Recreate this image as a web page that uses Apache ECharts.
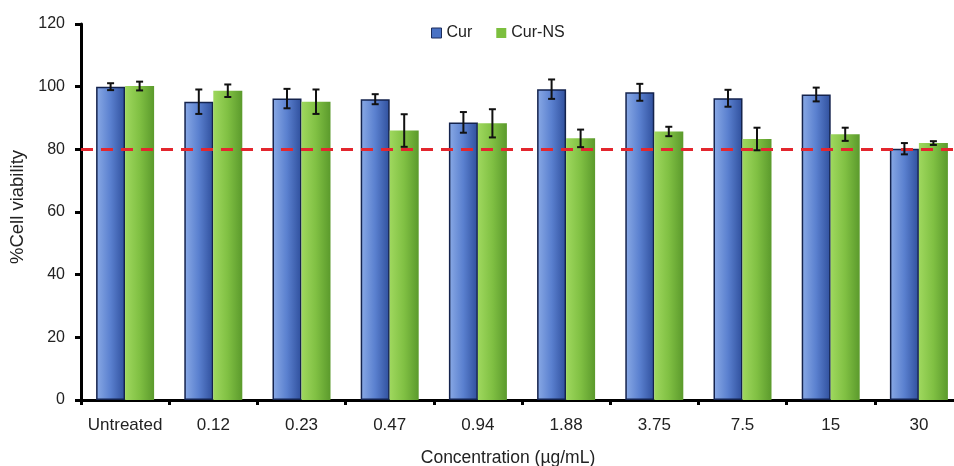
<!DOCTYPE html>
<html>
<head>
<meta charset="utf-8">
<script src="https://cdn.jsdelivr.net/npm/echarts@6/dist/echarts.min.js"></script>
<style>html,body{margin:0;padding:0;background:#fff;overflow:hidden}#c{width:954px;height:466px}</style>
</head>
<body>
<div id="c"></div>
<script>
const categories = ['Untreated','0.12','0.23','0.47','0.94','1.88','3.75','7.5','15','30'];
const curValues = [100, 95.2, 96.2, 96.0, 88.6, 99.2, 98.2, 96.3, 97.5, 80.2];
const curErrors = [1.1, 3.9, 3.1, 1.6, 3.3, 3.1, 2.7, 2.7, 2.2, 1.8];
const nsValues = [100.2, 98.7, 95.2, 86.0, 88.3, 83.5, 85.7, 83.3, 84.8, 82.0];
const nsErrors = [1.4, 2.0, 3.9, 5.2, 4.5, 2.8, 1.5, 3.6, 2.1, 0.6];
const yTicks = [0, 20, 40, 60, 80, 100, 120];
const thresholdValue = 80;

const BAR_W = 29;
const FONT = 'Liberation Sans';

function errorSeries(values, errors, offset) {
  return {
    type: 'custom',
    z: 5,
    silent: true,
    data: values.map((v, i) => [i, v, errors[i]]),
    renderItem: function (params, api) {
      const idx = api.value(0), v = api.value(1), e = api.value(2);
      const top = api.coord([idx, v + e]);
      const bot = api.coord([idx, v - e]);
      const x = top[0] + offset;
      const cap = 3.5;
      const style = { stroke: '#111', lineWidth: 2 };
      return {
        type: 'group',
        children: [
          { type: 'line', shape: { x1: x, y1: top[1], x2: x, y2: bot[1] }, style: style },
          { type: 'line', shape: { x1: x - cap, y1: top[1], x2: x + cap, y2: top[1] }, style: style },
          { type: 'line', shape: { x1: x - cap, y1: bot[1], x2: x + cap, y2: bot[1] }, style: style }
        ]
      };
    }
  };
}

const chart = echarts.init(document.getElementById('c'), null, { renderer: 'canvas' });
chart.setOption({
  animation: false,
  backgroundColor: '#fff',
  grid: { left: 81, width: 882, top: 24, bottom: 66, containLabel: false, outerBoundsMode: 'none' },
  legend: {
    top: 20,
    left: 426,
    itemWidth: 10,
    itemHeight: 10,
    itemGap: 24,
    textStyle: { fontFamily: FONT, fontSize: 16, color: '#222' },
    data: [
      { name: 'Cur', icon: 'rect', itemStyle: { color: '#4a72c4', borderColor: '#1c2d5c', borderWidth: 1 } },
      { name: 'Cur-NS', icon: 'rect', itemStyle: { color: '#7cbf3e', borderWidth: 0 } }
    ]
  },
  xAxis: {
    type: 'category',
    data: categories,
    name: 'Concentration (µg/mL)',
    nameLocation: 'middle',
    nameGap: 49,
    nameTextStyle: { fontFamily: FONT, fontSize: 17.5, color: '#222', padding: [0, 28, 0, 0] },
    axisLine: { lineStyle: { color: '#000', width: 3 } },
    axisTick: { show: true, interval: 0, alignWithLabel: false, length: 5, lineStyle: { color: '#000', width: 3 } },
    axisLabel: { interval: 0, fontFamily: FONT, fontSize: 17, color: '#222', margin: 17 }
  },
  yAxis: {
    type: 'value',
    min: yTicks[0],
    max: yTicks[yTicks.length - 1],
    interval: 20,
    name: '%Cell viability',
    nameLocation: 'middle',
    nameGap: 48,
    nameRotate: 90,
    nameTextStyle: { fontFamily: FONT, fontSize: 18.5, color: '#222', padding: [0, 0, 0, 10] },
    axisLine: { show: true, lineStyle: { color: '#000', width: 3 } },
    axisTick: { show: true, length: 6, lineStyle: { color: '#000', width: 3 } },
    axisLabel: { fontFamily: FONT, fontSize: 16, color: '#222', margin: 16 },
    splitLine: { show: false }
  },
  series: [
    {
      name: 'Cur',
      type: 'bar',
      barWidth: BAR_W,
      barGap: '0%',
      data: curValues,
      itemStyle: {
        color: new echarts.graphic.LinearGradient(0, 0, 1, 0, [
          { offset: 0, color: '#8aaae6' },
          { offset: 0.5, color: '#5a80cf' },
          { offset: 1, color: '#2f4f9c' }
        ]),
        borderColor: '#14234d',
        borderWidth: 1.5
      }
    },
    {
      name: 'Cur-NS',
      type: 'bar',
      barWidth: BAR_W,
      barGap: '0%',
      data: nsValues,
      itemStyle: {
        color: new echarts.graphic.LinearGradient(0, 0, 1, 0, [
          { offset: 0, color: '#9fd85e' },
          { offset: 0.5, color: '#80c043' },
          { offset: 1, color: '#5b9a2c' }
        ])
      }
    },
    errorSeries(curValues, curErrors, -BAR_W / 2),
    errorSeries(nsValues, nsErrors, BAR_W / 2),
    {
      type: 'line',
      data: [],
      z: 6,
      markLine: {
        silent: true,
        symbol: ['none', 'none'],
        label: { show: false },
        lineStyle: { color: '#e3262e', width: 3, type: [12, 8] },
        data: [{ yAxis: thresholdValue }]
      }
    }
  ]
});
</script>
</body>
</html>
